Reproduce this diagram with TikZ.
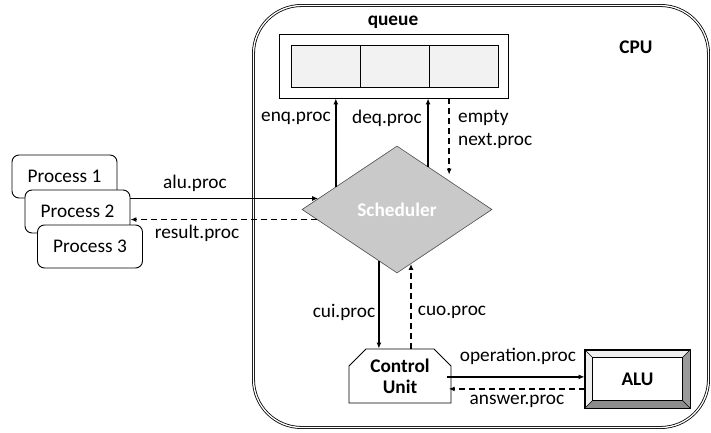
\documentclass[tikz,border=0pt]{standalone}
\usepackage{fontspec}
\setmainfont{Carlito}
\usetikzlibrary{shapes.geometric,shapes.misc,arrows.meta,calc}
\definecolor{cellgray}{HTML}{F2F2F2}
\definecolor{diagray}{HTML}{C9C9C9}
\definecolor{bevdark}{HTML}{9A9A9A}
\definecolor{bevmid}{HTML}{8C8C8C}
\definecolor{bevlight}{HTML}{EFEFEF}
\newcommand{\dfont}{\fontsize{19.3}{22}\selectfont}
\begin{document}
\begin{tikzpicture}[x=1pt,y=-1pt,
  every node/.style={font=\dfont},
  lbl/.style={inner sep=0pt},
  boldlbl/.style={inner sep=0pt, font=\dfont\bfseries},
  arr/.style={-{Latex[length=6pt,width=5pt]}, line width=1.5pt},
  darr/.style={arr, dash pattern=on 6pt off 4pt},
  cpubox/.style={draw, rounded corners=48pt, double, double distance=1.3pt, line width=0.8pt,
     minimum width=455pt, minimum height=422pt, inner sep=0pt},
  procbox/.style={draw, fill=white, rounded corners=7pt, minimum width=105pt,
     minimum height=43pt, line width=0.9pt, inner sep=0pt},
  cellbox/.style={draw, fill=cellgray, minimum width=69pt, minimum height=42pt,
     line width=0.9pt, inner sep=0pt},
  schedshape/.style={diamond, draw=gray!60!black, fill=diagray, line width=0.6pt,
     minimum width=190pt, minimum height=127pt, inner sep=0pt, text=white,
     font=\dfont\bfseries},
  cushape/.style={chamfered rectangle, chamfered rectangle corners={north west,north east},
     chamfered rectangle xsep=9pt, chamfered rectangle ysep=8pt, draw, fill=white,
     line width=0.9pt, minimum width=102pt, minimum height=54pt, inner sep=0pt,
     align=center, font=\fontsize{19.3}{21}\selectfont\bfseries},
  alushape/.style={draw, fill=bevlight, line width=0.9pt, minimum width=105pt,
     minimum height=58pt, inner sep=0pt}
]
\useasboundingbox (0,0) rectangle (711,433);

% CPU container
\node[cpubox] (cpu) at (481,216.5) {};
\node[boldlbl] (cpulbl) at (636,47) {CPU};

% queue
\node[draw, fill=white, line width=0.9pt, minimum width=229pt, minimum height=64pt, inner sep=0pt] (qbox) at (393.5,66) {};
\node[cellbox] (c1) at (325.5,66) {};
\node[cellbox] (c2) at (394.5,66) {};
\node[cellbox] (c3) at (464,66) {};
\node[boldlbl] (qlbl) at (393,22) {queue};

% scheduler
\node[schedshape] (sched) at (397,209.5) {Scheduler};

% processes
\node[procbox] (p1) at (64.5,176.5) {Process 1};
\node[procbox] (p2) at (77.5,211.5) {Process 2};
\node[procbox] (p3) at (90,246.5) {Process 3};

% control unit and ALU
\node[cushape] (cu) at (400,376) {Control\\Unit};
\node[alushape] (alu) at (637.5,379) {};
\coordinate (ainw) at ($(alu.north west)+(8,8)$);
\coordinate (aine) at ($(alu.north east)+(-8,8)$);
\coordinate (ainsw) at ($(alu.south west)+(8,-8)$);
\coordinate (ainse) at ($(alu.south east)+(-8,-8)$);
\fill[bevdark] (alu.north east) -- (alu.south east) -- (ainse) -- (aine) -- cycle;
\fill[bevmid] (alu.south west) -- (alu.south east) -- (ainse) -- (ainsw) -- cycle;
\draw[line width=0.5pt] (alu.north west) -- (ainw) (alu.north east) -- (aine)
      (alu.south west) -- (ainsw) (alu.south east) -- (ainse);
\draw[line width=0.9pt, fill=white] (ainw) rectangle (ainse);
\draw[line width=0.9pt] (alu.north west) rectangle (alu.south east);
\node[boldlbl] (alulbl) at (alu.center) {ALU};

% queue connectors
\coordinate (enq) at ($(sched.west)!0.358!(sched.north)$);
\draw[arr] (enq) -- (enq |- qbox.south);
\coordinate (deq) at ($(sched.north)!0.326!(sched.east)$);
\draw[arr] (deq) -- (deq |- qbox.south);
\coordinate (nxt) at ($(sched.north)!0.547!(sched.east)$);
\draw[darr] (nxt |- qbox.south) -- ($(nxt)+(0,-6)$);
\node[lbl] (enqlbl) at (296,118) {enq.proc};
\node[lbl] (deqlbl) at (387,118) {deq.proc};
\node[lbl, anchor=west, align=left, font=\fontsize{19.3}{23}\selectfont] (emptylbl) at (458,129.5) {empty\\next.proc};

% process connectors
\coordinate (alup) at ($(sched.west)!0.173!(sched.north)$);
\draw[arr] (alup -| p2.east) -- (alup);
\coordinate (resp) at ($(sched.west)!0.157!(sched.south)$);
\draw[darr] (resp) -- (resp -| p2.east);
\node[lbl] (alulbl2) at (195,183) {alu.proc};
\node[lbl] (reslbl) at (197,233) {result.proc};

% control unit connectors
\coordinate (cui) at ($(sched.south)!0.19!(sched.west)$);
\draw[arr] (cui) -- (cui |- cu.north);
\coordinate (cuo) at ($(sched.south)!0.147!(sched.east)$);
\draw[darr] (cuo |- cu.north) -- (cuo);
\node[lbl] (cuilbl) at (344,312) {cui.proc};
\node[lbl] (cuolbl) at (452,312) {cuo.proc};

% ALU connectors
\coordinate (op) at ($(cu.north east)!0.426!(cu.south east)$);
\draw[arr] (op) -- (op -| alu.west);
\coordinate (ans) at ($(cu.north east)!0.685!(cu.south east)$);
\draw[darr] (ans -| alu.west) -- (ans);
\node[lbl] (oplbl) at (518,356) {operation.proc};
\node[lbl] (anslbl) at (517,401) {answer.proc};
\end{tikzpicture}
\end{document}
